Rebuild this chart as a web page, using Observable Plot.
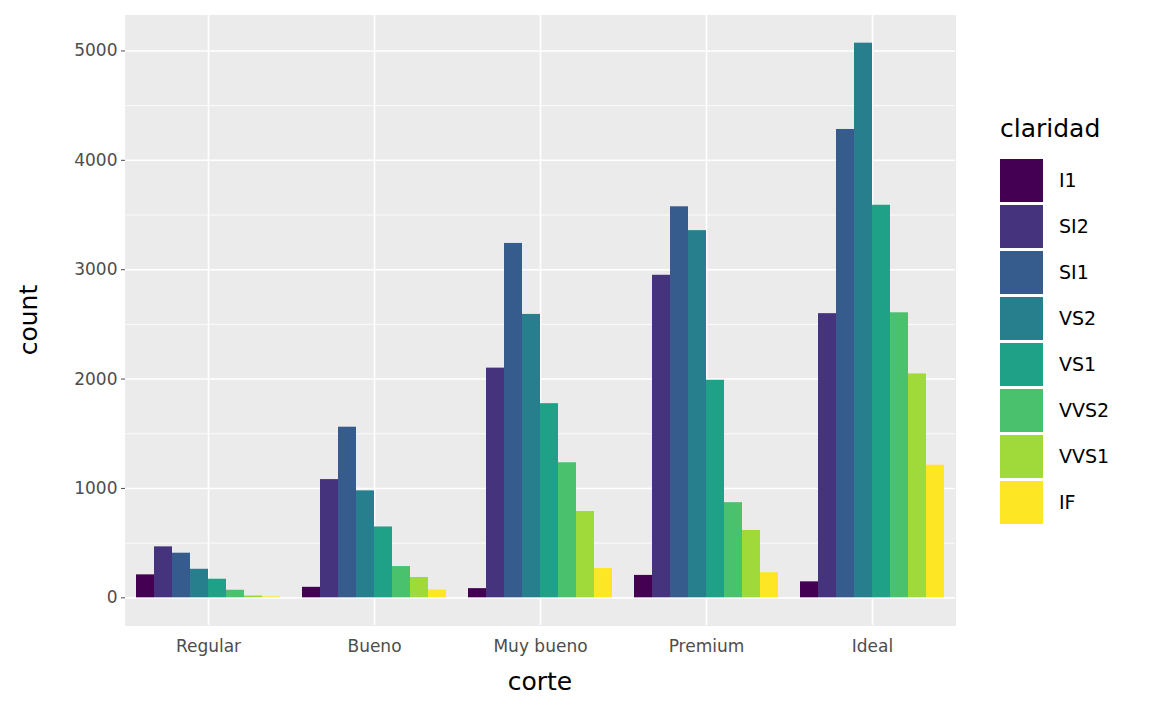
<!DOCTYPE html>
<html><head><meta charset="utf-8">
<script src="https://cdn.jsdelivr.net/npm/d3@7"></script>
<script src="https://cdn.jsdelivr.net/npm/@observablehq/plot@0.6"></script>
<style>
body{margin:0;background:#fff;font-family:"DejaVu Sans",sans-serif}
#wrap{position:relative;width:1152px;height:711px}
#legend{position:absolute;left:1000px;top:114px;font-size:19px;color:#000}
#legend .t{font-size:25px;margin-bottom:14px}
#legend .r{display:flex;align-items:center;height:46px}
#legend .s{width:43px;height:43px;margin-right:16px}
</style></head><body>
<div id="wrap"><div id="chart"></div><div id="legend"></div></div>
<script>
const cuts = ["Regular","Bueno","Muy bueno","Premium","Ideal"];
const clarities = ["I1","SI2","SI1","VS2","VS1","VVS2","VVS1","IF"];
const colors = ["#440154","#46337E","#365C8D","#277F8E","#1FA187","#4AC16D","#9FDA3A","#FDE725"];
const counts = [
  [210,466,408,261,170,69,17,9],
  [96,1081,1560,978,648,286,186,71],
  [84,2100,3240,2591,1775,1235,789,268],
  [205,2949,3575,3357,1989,870,616,230],
  [146,2598,4282,5071,3589,2606,2047,1212]
];
const data = cuts.flatMap((c,i) => clarities.map((k,j) => ({corte:c, claridad:k, count:counts[i][j]})));

const chart = Plot.plot({
  width: 1152, height: 711,
  marginLeft: 124, marginRight: 197, marginTop: 15, marginBottom: 86,
  style: {fontSize: "17px", color: "#4d4d4d", fontFamily: "DejaVu Sans, sans-serif"},
  fx: {domain: cuts, padding: 0, label: null, tickSize: 0, tickPadding: 14},
  x: {domain: clarities, axis: null, paddingInner: 0, paddingOuter: 0.43},
  y: {domain: [-253, 5324], ticks: [0,1000,2000,3000,4000,5000], tickFormat: "d", tickSize: 4, label: null, tickPadding: 4},
  color: {domain: clarities, range: colors},
  marks: [
    Plot.frame({fill: "#ebebeb", stroke: "#ebebeb"}),
    Plot.gridY([500,1500,2500,3500,4500], {stroke: "white", strokeOpacity: 1, strokeWidth: 0.8}),
    Plot.gridY([0,1000,2000,3000,4000,5000], {stroke: "white", strokeOpacity: 1, strokeWidth: 1.6}),
    Plot.gridFx({stroke: "white", strokeOpacity: 1, strokeWidth: 1.6}),
    Plot.barY(data, {fx: "corte", x: "claridad", y: "count", fill: "claridad"})
  ]
});
document.getElementById("chart").append(chart);
const svg = d3.select(chart);
svg.append("text").attr("x", 540).attr("y", 690).attr("text-anchor","middle")
  .attr("font-size", 25).attr("fill","#000").text("corte");
svg.append("text").attr("transform","translate(37,320) rotate(-90)").attr("text-anchor","middle")
  .attr("font-size", 25).attr("fill","#000").text("count");

const lg = d3.select("#legend");
lg.append("div").attr("class","t").text("claridad");
clarities.forEach((k,i) => {
  const r = lg.append("div").attr("class","r");
  r.append("div").attr("class","s").style("background", colors[i]);
  r.append("span").text(k);
});
</script></body></html>
